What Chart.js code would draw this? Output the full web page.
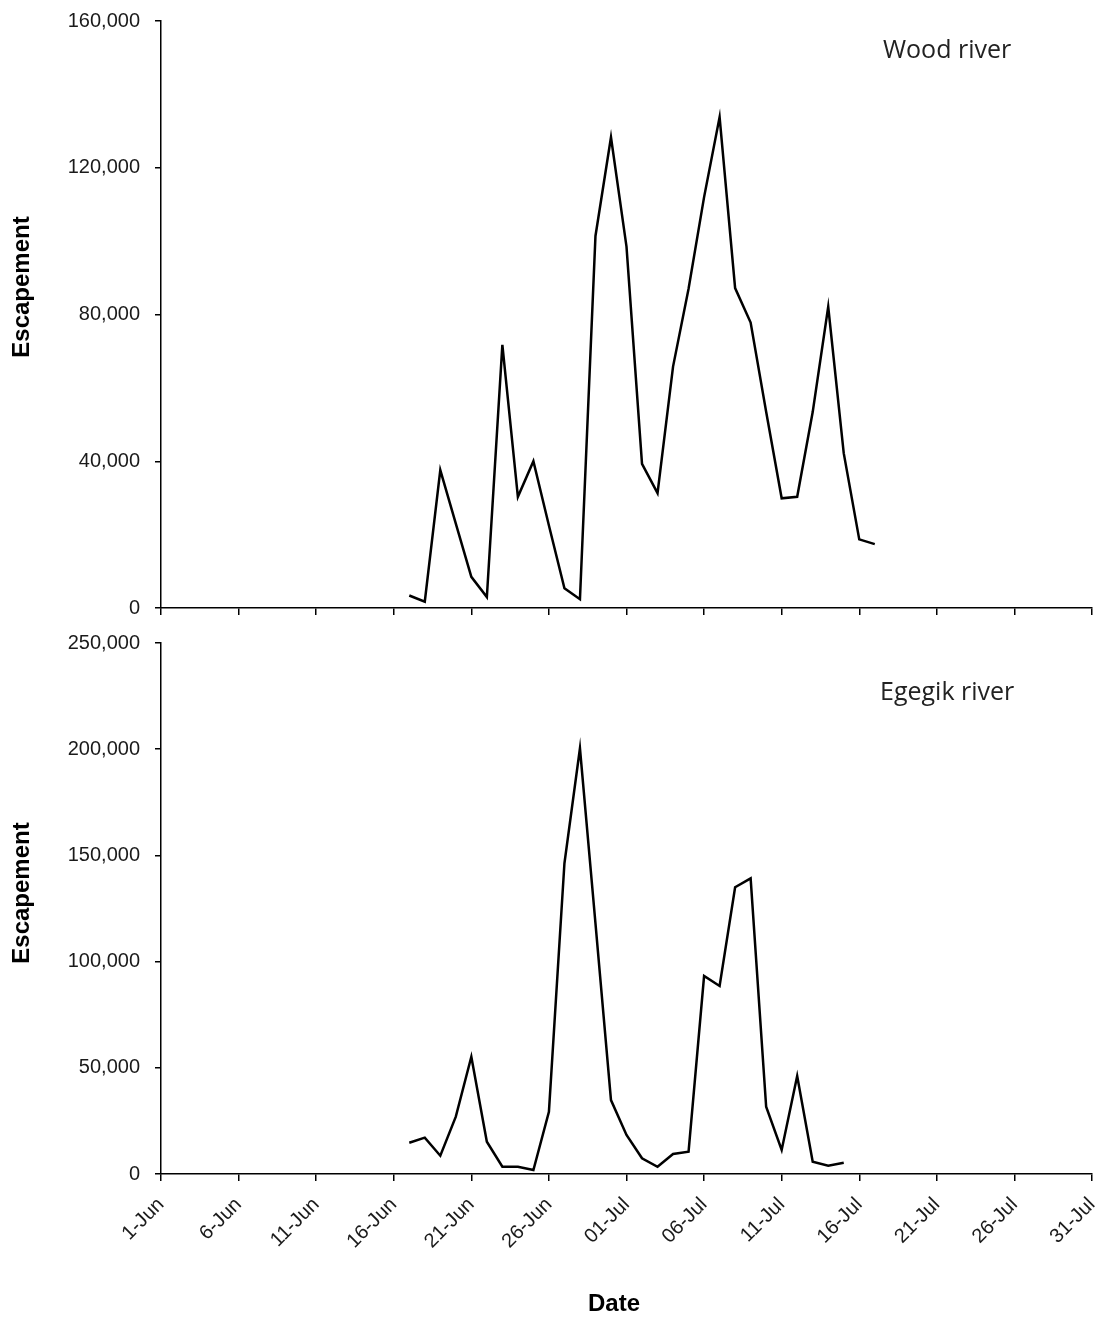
<!DOCTYPE html>
<html>
<head>
<meta charset="utf-8">
<script src="https://cdn.jsdelivr.net/npm/chart.js@4.4.0/dist/chart.umd.min.js"></script>
<style>
  body { margin: 0; background: #fff; }
  #wrap { position: relative; width: 1095px; height: 1320px; }
  canvas { position: absolute; left: 0; }
</style>
</head>
<body>
<div id="wrap">
  <canvas id="wood" width="1095" height="625" style="top:0"></canvas>
  <canvas id="egegik" width="1095" height="695" style="top:625px"></canvas>
</div>
<script>
// x ticks every 5 days from 1-Jun (day 0) to 31-Jul (day 60)
var tickLabels = ['1-Jun', '6-Jun', '11-Jun', '16-Jun', '21-Jun', '26-Jun', '01-Jul',
  '06-Jul', '11-Jul', '16-Jul', '21-Jul', '26-Jul', '31-Jul'];

// daily counts, first value is 17-Jun (day 16)
var woodStart = 16;
var woodCounts = [3400, 1700, 37600, 23000, 8500, 3000, 71700, 30300, 40000, 22500,
  5400, 2400, 101400, 128300, 98500, 39300, 31300, 65800, 87000, 112000,
  133800, 87200, 77800, 53500, 29900, 30300, 53400, 82100, 42200, 18700, 17400];

var egegikStart = 16;
var egegikCounts = [14700, 17100, 8600, 27000, 55200, 15200, 3400, 3400, 1900, 29300,
  146300, 200400, 118000, 34800, 18400, 7400, 3400, 9400, 10500, 93200,
  88500, 135000, 139200, 31700, 11300, 46100, 5800, 3900, 5300];

function toPoints(start, counts) {
  return counts.map(function (v, i) { return { x: start + i, y: v }; });
}

// draws the axis titles and the river name
var panelText = {
  id: 'panelText',
  afterDraw: function (chart, args, opts) {
    var ctx = chart.ctx;
    ctx.save();
    ctx.fillStyle = '#000';
    ctx.font = 'bold 24px "Liberation Sans", Arial, sans-serif';
    ctx.textAlign = 'center';
    ctx.textBaseline = 'middle';
    ctx.translate(22, opts.yTitleAt);
    ctx.rotate(-Math.PI / 2);
    ctx.fillText('Escapement', 0, 0);
    ctx.restore();

    ctx.save();
    ctx.fillStyle = '#222';
    ctx.font = '25px "Open Sans", sans-serif';
    ctx.textAlign = 'left';
    ctx.textBaseline = 'middle';
    ctx.fillText(opts.river, opts.riverX, opts.riverY);
    if (opts.xTitle) {
      ctx.fillStyle = '#000';
      ctx.font = 'bold 24px "Liberation Sans", Arial, sans-serif';
      ctx.textAlign = 'center';
      ctx.fillText(opts.xTitle, 614, opts.xTitleAt);
    }
    ctx.restore();
  }
};

function makeChart(id, points, yMax, yStep, cfg) {
  return new Chart(document.getElementById(id), {
    type: 'line',
    data: {
      datasets: [{
        data: points,
        borderColor: '#000',
        borderWidth: 2.5,
        pointRadius: 0,
        tension: 0,
        fill: false
      }]
    },
    options: {
      responsive: false,
      animation: false,
      layout: { padding: { top: cfg.padTop, right: 3, left: 0, bottom: 0 } },
      plugins: {
        legend: { display: false },
        tooltip: { enabled: false },
        panelText: cfg.text
      },
      scales: {
        x: {
          type: 'linear',
          min: 0,
          max: 60,
          grid: { display: true, drawOnChartArea: false, drawTicks: true, tickLength: 7, color: '#000', lineWidth: 1.5 },
          border: { display: true, color: '#000', width: 1.5 },
          ticks: {
            stepSize: 5,
            autoSkip: false,
            maxRotation: 45,
            minRotation: 45,
            padding: 12,
            color: '#1a1a1a',
            font: { family: '"Liberation Sans", Arial, sans-serif', size: 20 },
            callback: function (v) { return cfg.xLabels ? tickLabels[v / 5] : ''; }
          },
          afterFit: function (s) {
            s.height = cfg.xHeight;
            s.paddingLeft = 0;
            s.paddingRight = 0;
          }
        },
        y: {
          min: 0,
          max: yMax,
          grid: { display: true, drawOnChartArea: false, drawTicks: true, tickLength: 6, color: '#000', lineWidth: 1.5 },
          border: { display: true, color: '#000', width: 1.5 },
          ticks: {
            stepSize: yStep,
            padding: 15,
            color: '#1a1a1a',
            font: { family: '"Liberation Sans", Arial, sans-serif', size: 20 },
            callback: function (v) { return v.toLocaleString('en-US'); }
          },
          afterFit: function (s) {
            s.width = 161;
            s.paddingTop = 0;
            s.paddingBottom = 0;
          }
        }
      }
    },
    plugins: [panelText]
  });
}

makeChart('wood', toPoints(woodStart, woodCounts), 160000, 40000, {
  padTop: 21, xHeight: 17, xLabels: false,
  text: { yTitleAt: 287, river: 'Wood river', riverX: 883, riverY: 51 }
});

makeChart('egegik', toPoints(egegikStart, egegikCounts), 250000, 50000, {
  padTop: 18, xHeight: 146, xLabels: true,
  text: { yTitleAt: 268, river: 'Egegik river', riverX: 880, riverY: 68, xTitle: 'Date', xTitleAt: 679 }
});
</script>
</body>
</html>
